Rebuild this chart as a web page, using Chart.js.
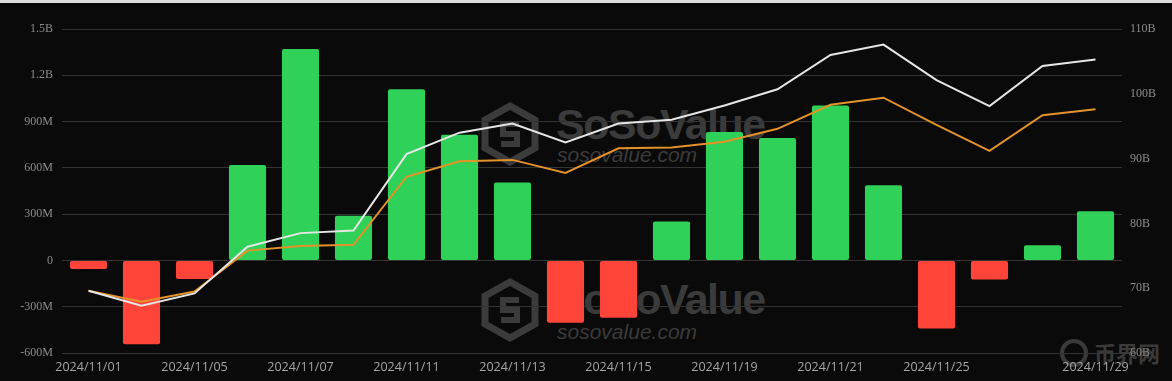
<!DOCTYPE html>
<html>
<head>
<meta charset="utf-8">
<script src="https://cdn.jsdelivr.net/npm/chart.js@4/dist/chart.umd.min.js"></script>
<style>
  html, body { margin: 0; padding: 0; background: #0a0a0a; }
  #wrap { position: relative; width: 1172px; height: 381px; overflow: hidden; background: #0a0a0a; }
  #topbar { position: absolute; left: 0; top: 0; width: 1172px; height: 3px; background: #dcdcdc; z-index: 3; }
  .wm { position: absolute; z-index: 0; color: #3b3b3b; font-family: "Liberation Sans", Arial, sans-serif; white-space: nowrap; }
  .wm-big { font-weight: bold; font-size: 43px; letter-spacing: -1.5px; line-height: 1; }
  .wm-small { font-style: italic; font-size: 21px; line-height: 1; }
  .wm-icon { position: absolute; z-index: 0; }
  .bjw { position: absolute; z-index: 0; color: #3a3a3a; font-family: "Noto Sans CJK SC", sans-serif; font-size: 22px; font-weight: bold; line-height: 1; }
  canvas { position: relative; z-index: 1; }
</style>
</head>
<body>
<div id="wrap">
  <div id="topbar"></div>

  <!-- watermarks -->
  <svg class="wm-icon" style="left:481px;top:102px" width="58" height="64" viewBox="0 0 58 64">
    <polygon points="29,4 54,18 54,46 29,60 4,46 4,18" fill="none" stroke="#3b3b3b" stroke-width="7"/>
    <path d="M38 22 H22 V32 H36 V42 H20" fill="none" stroke="#3b3b3b" stroke-width="6"/>
  </svg>
  <div class="wm wm-big" style="left:556px;top:103px">SoSoValue</div>
  <div class="wm wm-small" style="left:557px;top:144px">sosovalue.com</div>

  <svg class="wm-icon" style="left:481px;top:278px" width="58" height="64" viewBox="0 0 58 64">
    <polygon points="29,4 54,18 54,46 29,60 4,46 4,18" fill="none" stroke="#3b3b3b" stroke-width="7"/>
    <path d="M38 22 H22 V32 H36 V42 H20" fill="none" stroke="#3b3b3b" stroke-width="6"/>
  </svg>
  <div class="wm wm-big" style="left:556px;top:278px">SoSoValue</div>
  <div class="wm wm-small" style="left:557px;top:321px">sosovalue.com</div>

  <svg class="wm-icon" style="left:1057px;top:339px" width="34" height="28" viewBox="0 0 34 28">
    <circle cx="17" cy="14" r="12" fill="none" stroke="#3a3a3a" stroke-width="4"/>
  </svg>
  <div class="bjw" style="left:1094px;top:341px">币界网</div>

  <canvas id="myChart" width="1172" height="381"></canvas>
</div>

<script>
//categories (trading days)
const dates = [
  "2024/11/01", "2024/11/04", "2024/11/05", "2024/11/06", "2024/11/07",
  "2024/11/08", "2024/11/11", "2024/11/12", "2024/11/13", "2024/11/14",
  "2024/11/15", "2024/11/18", "2024/11/19", "2024/11/20", "2024/11/21",
  "2024/11/22", "2024/11/25", "2024/11/26", "2024/11/27", "2024/11/29"
];

//x tick labels that are shown
const shownDates = [
  "2024/11/01", "2024/11/05", "2024/11/07", "2024/11/11", "2024/11/13",
  "2024/11/15", "2024/11/19", "2024/11/21", "2024/11/25", "2024/11/29"
];

//daily net inflow, in millions (left axis)
const netInflow = [
  -56, -543, -120, 618, 1371, 290, 1110, 814, 505, -404,
  -372, 252, 833, 794, 1004, 488, -442, -124, 98, 318
];

//total net assets, in billions (right axis, white)
const totalAssets = [
  69.6, 67.3, 69.2, 76.4, 78.5, 78.9, 90.7, 94.0, 95.4, 92.5,
  95.4, 96.0, 98.2, 100.7, 106.0, 107.6, 102.1, 98.1, 104.3, 105.3
];

//second series, in billions (right axis, orange)
const cumulative = [
  69.6, 67.9, 69.5, 75.8, 76.5, 76.7, 87.2, 89.6, 89.8, 87.8,
  91.6, 91.7, 92.6, 94.6, 98.3, 99.4, 95.2, 91.2, 96.7, 97.6
];

//axis ticks
const leftTicks = { min: -600, max: 1500, step: 300 };
const rightTicks = { min: 60, max: 110, step: 10 };

const GREEN = "#30d158";
const RED = "#ff453a";
const GRID = "#333333";

const formatLeft = (v) => {
  if (v === 0) return "0";
  if (Math.abs(v) >= 1000) return (v / 1000) + "B";
  return v + "M";
};

const drawChart = () => {
  const ctx = document.getElementById("myChart");
  new Chart(ctx, {
    type: "bar",
    data: {
      labels: dates,
      datasets: [{
        type: "line",
        label: "total",
        data: totalAssets,
        yAxisID: "y1",
        borderColor: "#e6e6e6",
        backgroundColor: "#e6e6e6",
        borderWidth: 2,
        pointRadius: 0,
        tension: 0,
        order: 1
      }, {
        type: "line",
        label: "cumulative",
        data: cumulative,
        yAxisID: "y1",
        borderColor: "#e4922a",
        backgroundColor: "#e4922a",
        borderWidth: 2,
        pointRadius: 0,
        tension: 0,
        order: 2
      }, {
        type: "bar",
        label: "inflow",
        data: netInflow,
        yAxisID: "y",
        backgroundColor: netInflow.map(v => v >= 0 ? GREEN : RED),
        borderWidth: 0,
        borderRadius: 2,
        borderSkipped: false,
        barPercentage: 0.7,
        categoryPercentage: 1,
        order: 3
      }]
    },
    options: {
      responsive: false,
      animation: false,
      layout: { padding: { top: 29, left: 0, right: 0, bottom: 0 } },
      plugins: {
        legend: { display: false },
        tooltip: { enabled: false }
      },
      scales: {
        x: {
          grid: { display: false, drawTicks: false },
          border: { display: false },
          ticks: {
            autoSkip: false,
            maxRotation: 0,
            padding: 7,
            color: "#a6a6a6",
            font: { family: "'Open Sans', sans-serif", size: 12.5 },
            callback: function (value) {
              const label = this.getLabelForValue(value);
              return shownDates.includes(label) ? label : "";
            }
          },
          afterFit: (scale) => { scale.height = 28; }
        },
        y: {
          position: "left",
          min: leftTicks.min,
          max: leftTicks.max,
          grid: { color: GRID, lineWidth: 1, drawTicks: false },
          border: { display: false },
          ticks: {
            stepSize: leftTicks.step,
            padding: 9,
            color: "#8c8c8c",
            font: { family: "'Liberation Serif', serif", size: 12 },
            callback: (v) => formatLeft(v)
          },
          afterFit: (scale) => { scale.width = 62; }
        },
        y1: {
          position: "right",
          min: rightTicks.min,
          max: rightTicks.max,
          grid: { display: false, drawTicks: false },
          border: { display: false },
          ticks: {
            stepSize: rightTicks.step,
            padding: 8,
            color: "#8c8c8c",
            font: { family: "'Liberation Serif', serif", size: 12 },
            callback: (v) => v + "B"
          },
          afterFit: (scale) => { scale.width = 50; }
        }
      }
    }
  });
};

drawChart();
</script>
</body>
</html>
